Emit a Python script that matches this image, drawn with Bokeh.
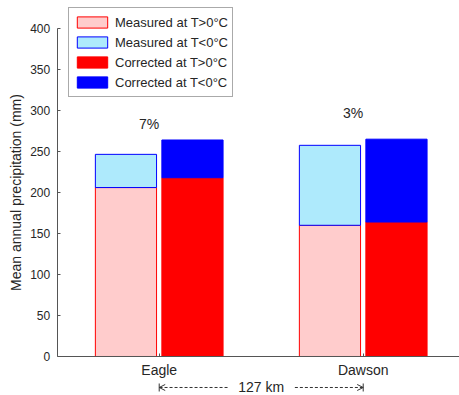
from bokeh.plotting import figure
from bokeh.models import (ColumnDataSource, Range1d, FixedTicker, Legend, LegendItem,
                          Label, Arrow, OpenHead, TeeHead)
from bokeh.core.properties import value
from bokeh.embed import file_html
from bokeh.resources import INLINE

# ---- data ----
sites = ["Eagle", "Dawson"]
meas_warm = [206, 160]     # Measured at T>0°C
meas_cold = [40.5, 97.5]   # Measured at T<0°C
corr_warm = [218, 164]     # Corrected at T>0°C
corr_cold = [46, 101]      # Corrected at T<0°C
y_ticks = [0, 50, 100, 150, 200, 250, 300, 350, 400]
distance_label = "127 km"

FONT = "Liberation Sans"
TXT = "#262626"

xs = list(range(1, len(sites) + 1))
meas_tot = [a + b for a, b in zip(meas_warm, meas_cold)]
corr_tot = [a + b for a, b in zip(corr_warm, corr_cold)]
pct = ["%d%%" % round(100 * (c - m) / m) for c, m in zip(corr_tot, meas_tot)]

off = 0.163
bw = 0.3
src = ColumnDataSource(dict(
    xm=[x - off for x in xs], xc=[x + off for x in xs],
    mw=meas_warm, mc=meas_cold, cw=corr_warm, cc=corr_cold,
    mtot=meas_tot, ctot=corr_tot,
))

# frame covers the whole canvas; axes are pinned at x=0.5 and y=0
p = figure(width=459, height=395, output_backend="svg", toolbar_location=None,
           x_range=Range1d(0.222, 2.472), y_range=Range1d(-47.56, 434.1),
           min_border=0)
p.outline_line_color = None
p.xgrid.visible = False
p.ygrid.visible = False
p.background_fill_color = "white"
p.border_fill_color = "white"

r1 = p.vbar(x="xm", bottom=0, top="mw", width=bw, source=src,
            fill_color="#ffcccc", line_color="#ff0000", line_width=1)
r2 = p.vbar(x="xm", bottom="mw", top="mtot", width=bw, source=src,
            fill_color="#aeeafc", line_color="#0000ff", line_width=1)
r3 = p.vbar(x="xc", bottom=0, top="cw", width=bw, source=src,
            fill_color="#ff0000", line_color="#ff0000", line_width=1)
r4 = p.vbar(x="xc", bottom="cw", top="ctot", width=bw, source=src,
            fill_color="#0000ff", line_color="#0000ff", line_width=1)

# percent labels
label_y = [283, 297]
p.text(x=[x - 0.05 for x in xs], y=label_y, text=pct, text_font=value(FONT),
       text_font_size="14px", text_align="center", text_baseline="middle",
       text_color=TXT)

# axes
p.yaxis.fixed_location = 0.5
p.yaxis.bounds = (0, 400)
p.xaxis.fixed_location = 0
p.xaxis.bounds = (0.5, 2.472)
p.yaxis.ticker = FixedTicker(ticks=y_ticks)
p.yaxis.axis_label = "Mean annual precipitation (mm)"
p.xaxis.ticker = FixedTicker(ticks=xs)
p.xaxis.major_label_overrides = {x: s for x, s in zip(xs, sites)}
for ax in (p.xaxis, p.yaxis):
    ax.major_tick_in = 3
    ax.major_tick_out = 0
    ax.minor_tick_line_color = None
    ax.axis_line_color = "#555555"
    ax.major_tick_line_color = "#555555"
    ax.major_label_text_font = FONT
    ax.major_label_text_color = TXT
    ax.axis_label_text_font = FONT
    ax.axis_label_text_color = TXT
    ax.axis_label_text_font_style = "normal"
p.yaxis.major_label_text_font_size = "12px"
p.yaxis.major_label_standoff = 7
p.yaxis.axis_label_text_font_size = "14px"
p.yaxis.axis_label_standoff = 3
p.xaxis.major_label_text_font_size = "14px"
p.xaxis.major_label_standoff = 6

# distance annotation under the axis
yd = -37.8
mid = (xs[0] + xs[1]) / 2
p.add_layout(Label(x=mid, y=yd, text=distance_label, text_font=FONT,
                   text_font_size="14px", text_align="center", text_baseline="middle",
                   text_color=TXT))
for xa, xb in ((mid - 0.165, xs[0]), (mid + 0.165, xs[1])):
    p.add_layout(Arrow(x_start=xa, y_start=yd, x_end=xb, y_end=yd, line_dash="3 2",
                       line_color="#333333", line_width=1,
                       end=OpenHead(size=6, line_color="#333333", line_width=1)))
    p.add_layout(Arrow(x_start=xa, y_start=yd, x_end=xb, y_end=yd, line_alpha=0,
                       end=TeeHead(size=8, line_color="#333333", line_width=1)))

legend = Legend(items=[
    LegendItem(label="Measured at T>0°C", renderers=[r1]),
    LegendItem(label="Measured at T<0°C", renderers=[r2]),
    LegendItem(label="Corrected at T>0°C", renderers=[r3]),
    LegendItem(label="Corrected at T<0°C", renderers=[r4]),
], location=(68, 298))
legend.glyph_width = 38
legend.glyph_height = 14
legend.label_height = 20
legend.spacing = 0
legend.padding = 4
legend.margin = 0
legend.label_standoff = 4
legend.label_text_font = FONT
legend.label_text_font_size = "13px"
legend.label_text_color = TXT
legend.border_line_color = "#555555"
legend.border_line_width = 1
legend.background_fill_alpha = 1
p.add_layout(legend)

open("out.html", "w").write(file_html(p, INLINE))
